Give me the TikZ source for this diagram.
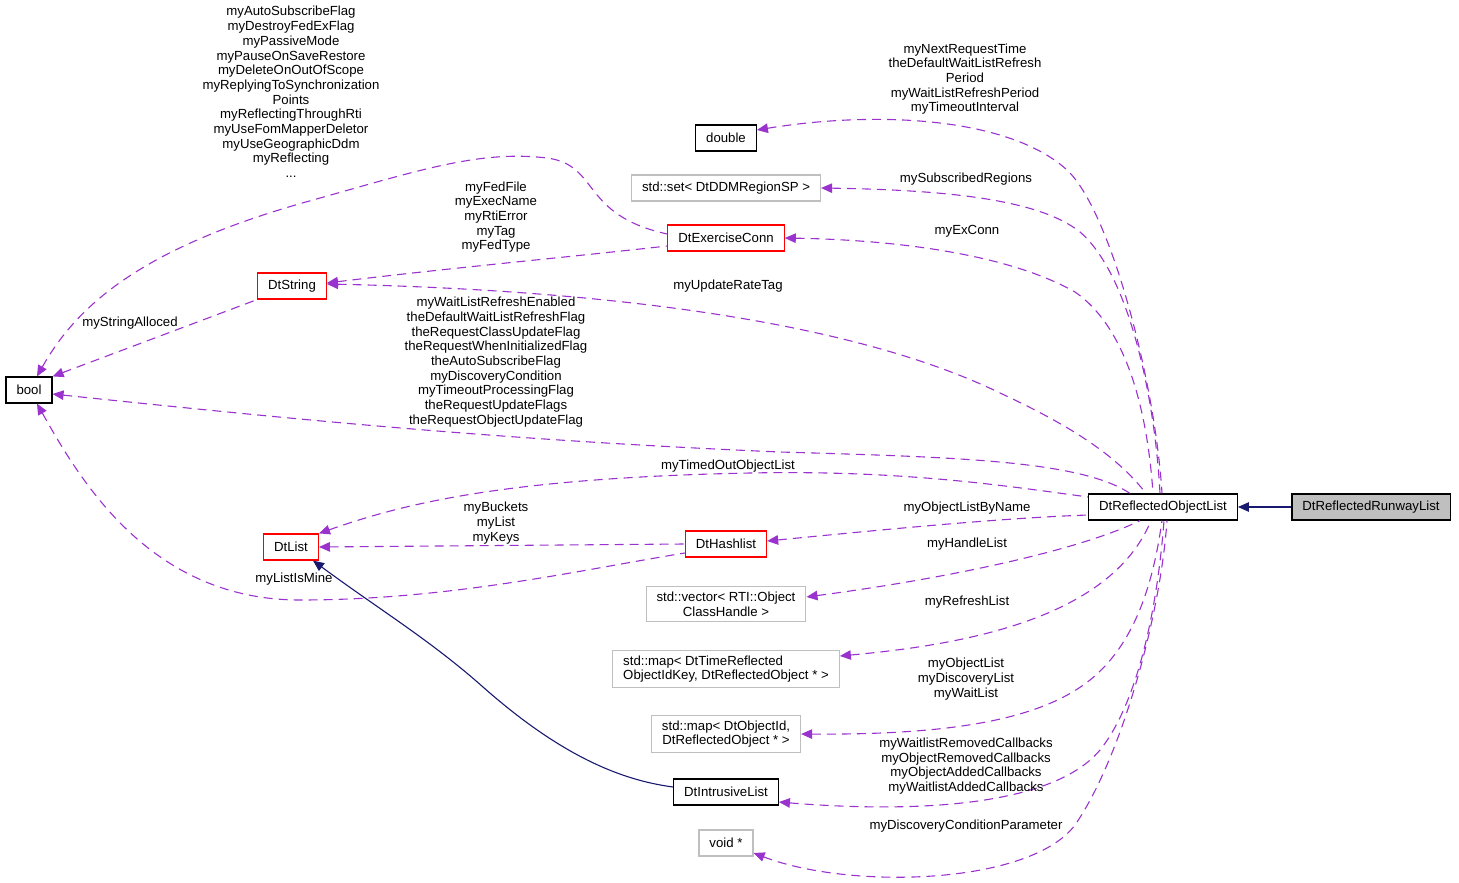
\documentclass[tikz,border=0pt]{standalone}
\usepackage{fontspec}
\setmainfont{Liberation Sans}
\usetikzlibrary{arrows.meta}
\definecolor{memberedge}{HTML}{9A32CD}
\definecolor{baseedge}{HTML}{191970}
\definecolor{undocgray}{HTML}{BFBFBF}

\begin{document}
\begin{tikzpicture}[x=1pt, y=-1pt, >={Triangle[length=11pt, width=9.5pt]},
    font=\fontsize{13.2}{14.7}\selectfont,
    box/.style={draw=black, fill=white, line width=1.2pt, inner xsep=10.5pt,
        inner ysep=5pt, minimum height=26pt, align=center},
    truncbox/.style={box, draw=red},
    undocbox/.style={box, draw=undocgray},
    member/.style={draw=memberedge, line width=1.1pt, dash pattern=on 9pt off 6pt, <-},
    base/.style={draw=baseedge, line width=1.1pt, <-},
    lbl/.style={inner sep=0pt, align=center}]
    \useasboundingbox (0, 0) rectangle (1459, 883);

    % classes
    \node [box] (bool) at (29, 390) {bool};
    \node [box] (double) at (726, 138) {double};
    \node [undocbox] (setRegion) at (726, 188) {std::set< DtDDMRegionSP >};
    \node [truncbox] (DtExerciseConn) at (726, 238) {DtExerciseConn};
    \node [truncbox] (DtString) at (292, 286) {DtString};
    \node [truncbox] (DtList) at (291, 547) {DtList};
    \node [truncbox] (DtHashlist) at (726, 544) {DtHashlist};
    \node [undocbox] (vecHandle) at (726, 604) {std::vector< RTI::Object\\ClassHandle >};
    \node [undocbox, align=left] (mapTime) at (726, 669) {std::map< DtTimeReflected\\ObjectIdKey, DtReflectedObject * >};
    \node [undocbox] (mapId) at (726, 734) {std::map< DtObjectId,\\DtReflectedObject * >};
    \node [box] (DtIntrusiveList) at (726, 792) {DtIntrusiveList};
    \node [undocbox] (voidPtr) at (726, 843) {void *};
    \node [box] (DtReflectedObjectList) at (1163, 507) {DtReflectedObjectList};
    \node [box, fill=undocgray] (DtReflectedRunwayList) at (1371, 507) {DtReflectedRunwayList};

    % inheritance
    \draw [base] (DtReflectedObjectList.east) -- (DtReflectedRunwayList.west);
    \draw [base] ([xshift=22pt]DtList.south)
        .. controls (380, 610) and (430, 640) .. (483, 687)
        .. controls (560, 755) and (620, 780) .. ([yshift=5pt]DtIntrusiveList.west);

    % members of DtExerciseConn, DtString, DtHashlist
    \draw [member] ([xshift=8pt]bool.north)
        .. controls (80, 300) and (150, 245) .. (313, 200)
        .. controls (420, 170) and (480, 150) .. (547, 158)
        .. controls (600, 165) and (580, 215) .. ([yshift=4pt]DtExerciseConn.west);
    \draw [member] ([yshift=3pt]DtString.east)
        .. controls (450, 268) and (560, 258) .. ([yshift=-8pt]DtExerciseConn.west);
    \draw [member] (bool.north east) -- (DtString.south west);
    \draw [member] (DtList.east) -- (DtHashlist.west);
    \draw [member] ([xshift=8pt]bool.south)
        .. controls (80, 480) and (150, 600) .. (300, 600)
        .. controls (450, 600) and (580, 570) .. ([yshift=-9pt]DtHashlist.west);

    % members of DtReflectedObjectList
    \draw [member] ([yshift=-4pt]bool.east)
        .. controls (300, 420) and (500, 440) .. (780, 452)
        .. controls (950, 457) and (1080, 460) .. ([xshift=-33pt]DtReflectedObjectList.north);
    \draw [member] (DtList.north east)
        .. controls (400, 505) and (500, 478) .. (750, 473)
        .. controls (900, 470) and (1000, 485) .. ([yshift=10pt]DtReflectedObjectList.west);
    \draw [member] ([yshift=8pt]double.east)
        .. controls (880, 110) and (1010, 118) .. (1067, 170)
        .. controls (1110, 210) and (1155, 380) .. ([xshift=-1pt]DtReflectedObjectList.north);
    \draw [member] (setRegion.east)
        .. controls (950, 190) and (1040, 200) .. (1080, 232)
        .. controls (1130, 275) and (1155, 400) .. ([xshift=-3pt]DtReflectedObjectList.north);
    \draw [member] (DtExerciseConn.east)
        .. controls (900, 240) and (1010, 255) .. (1075, 292)
        .. controls (1130, 330) and (1148, 420) .. ([xshift=-10pt]DtReflectedObjectList.north);
    \draw [member] ([yshift=2pt]DtString.east)
        .. controls (600, 290) and (850, 320) .. (1000, 393)
        .. controls (1080, 430) and (1120, 460) .. ([xshift=-17pt]DtReflectedObjectList.north);
    \draw [member] ([yshift=3pt]DtHashlist.east)
        .. controls (880, 530) and (1000, 518) .. ([yshift=-8pt]DtReflectedObjectList.west);
    \draw [member] ([yshift=7pt]vecHandle.east)
        .. controls (950, 578) and (1080, 550) .. ([xshift=-23pt]DtReflectedObjectList.south);
    \draw [member] ([yshift=13pt]mapTime.east)
        .. controls (960, 645) and (1110, 620) .. ([xshift=-12pt]DtReflectedObjectList.south);
    \draw [member] (mapId.east)
        .. controls (950, 735) and (1040, 720) .. (1090, 680)
        .. controls (1140, 640) and (1155, 570) .. ([xshift=-1pt]DtReflectedObjectList.south);
    \draw [member] ([yshift=-10pt]DtIntrusiveList.east)
        .. controls (900, 812) and (1050, 810) .. (1100, 750)
        .. controls (1140, 700) and (1158, 600) .. ([xshift=1pt]DtReflectedObjectList.south);
    \draw [member] ([yshift=-10pt]voidPtr.east)
        .. controls (850, 890) and (1030, 885) .. (1075, 825)
        .. controls (1120, 760) and (1160, 620) .. ([xshift=4pt]DtReflectedObjectList.south);

    % edge labels
    \node [lbl] (lExConnBool) at (291, 92) {myAutoSubscribeFlag\\myDestroyFedExFlag\\myPassiveMode\\myPauseOnSaveRestore\\myDeleteOnOutOfScope\\myReplyingToSynchronization\\Points\\myReflectingThroughRti\\myUseFomMapperDeletor\\myUseGeographicDdm\\myReflecting\\...};
    \node [lbl] (lExConnString) at (496, 217) {myFedFile\\myExecName\\myRtiError\\myTag\\myFedType};
    \node [lbl] (lStringBool) at (130, 323) {myStringAlloced};
    \node [lbl] (lListBool) at (496, 362) {myWaitListRefreshEnabled\\theDefaultWaitListRefreshFlag\\theRequestClassUpdateFlag\\theRequestWhenInitializedFlag\\theAutoSubscribeFlag\\myDiscoveryCondition\\myTimeoutProcessingFlag\\theRequestUpdateFlags\\theRequestObjectUpdateFlag};
    \node [lbl] (lUpdateRate) at (728, 286) {myUpdateRateTag};
    \node [lbl] (lTimedOut) at (728, 466) {myTimedOutObjectList};
    \node [lbl] (lBuckets) at (496, 523) {myBuckets\\myList\\myKeys};
    \node [lbl] (lListIsMine) at (294, 579) {myListIsMine};
    \node [lbl] (lDouble) at (965, 79) {myNextRequestTime\\theDefaultWaitListRefresh\\Period\\myWaitListRefreshPeriod\\myTimeoutInterval};
    \node [lbl] (lRegions) at (966, 179) {mySubscribedRegions};
    \node [lbl] (lExConn) at (967, 231) {myExConn};
    \node [lbl] (lByName) at (967, 508) {myObjectListByName};
    \node [lbl] (lHandle) at (967, 544) {myHandleList};
    \node [lbl] (lRefresh) at (967, 602) {myRefreshList};
    \node [lbl] (lObjList) at (966, 679) {myObjectList\\myDiscoveryList\\myWaitList};
    \node [lbl] (lCallbacks) at (966, 766) {myWaitlistRemovedCallbacks\\myObjectRemovedCallbacks\\myObjectAddedCallbacks\\myWaitlistAddedCallbacks};
    \node [lbl] (lDiscParam) at (966, 826) {myDiscoveryConditionParameter};
\end{tikzpicture}
\end{document}
